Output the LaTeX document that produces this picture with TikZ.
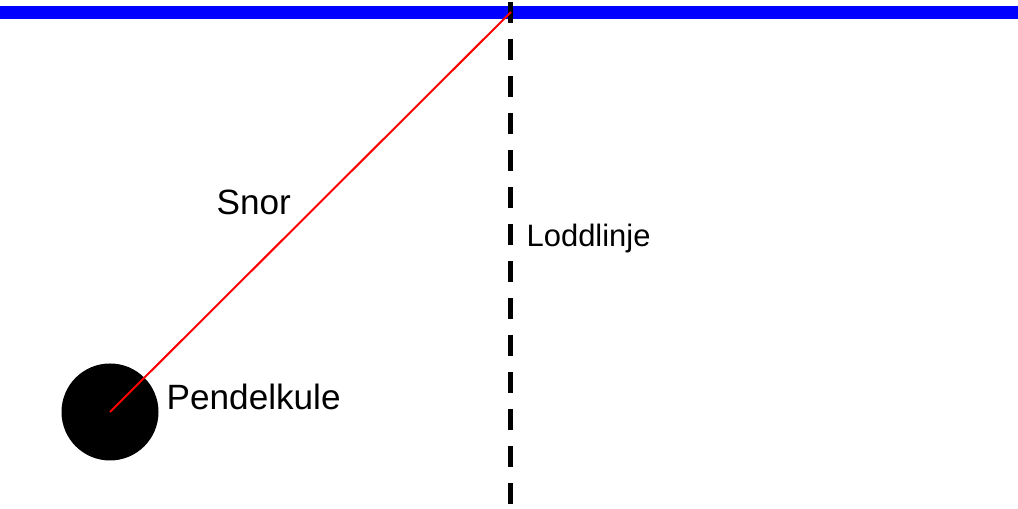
\documentclass[tikz,border=0pt]{standalone}
\usepackage{fontspec}
\setmainfont{Liberation Sans}
\usepackage{xcolor}
\usepackage{tikz}
\usetikzlibrary{positioning}
\definecolor{ceilingblue}{RGB}{0, 0, 255}
\definecolor{stringred}{RGB}{255, 0, 0}
\tikzset{
    labeltext/.style={anchor=base west, inner sep=0pt, font=\fontsize{10pt}{12pt}\selectfont},
    bobball/.style={circle, fill=black, inner sep=0pt, minimum size=0.97cm}
}

\begin{document}
\begin{tikzpicture}
    \useasboundingbox (0,0) rectangle (10.18,5.09);

    % Ceiling
    \draw[line width=0.13cm, ceilingblue] (0,4.965) -- (10.18,4.965);

    % Plumb line
    \coordinate (plumbtop) at (5.105,5.07);
    \coordinate (plumbend) at (5.105,0.04);
    \draw[line width=0.05cm, black, dash pattern=on 0.21cm off 0.16cm] (plumbtop) -- (plumbend);

    % Pendulum
    \coordinate (pivot) at (5.11,4.97);
    \node[bobball] (bob) at (1.10,0.97) {};
    \draw[line width=0.02cm, stringred] (pivot) -- (bob.center);

    % Labels
    \node[labeltext] (snor) at (2.16,2.94) {Snor};
    \node[labeltext, font=\fontsize{8.8pt}{11pt}\selectfont] (loddlinje) at (5.26,2.62) {Loddlinje};
    \node[labeltext] (pendelkule) at (1.66,0.99) {Pendelkule};
\end{tikzpicture}
\end{document}
